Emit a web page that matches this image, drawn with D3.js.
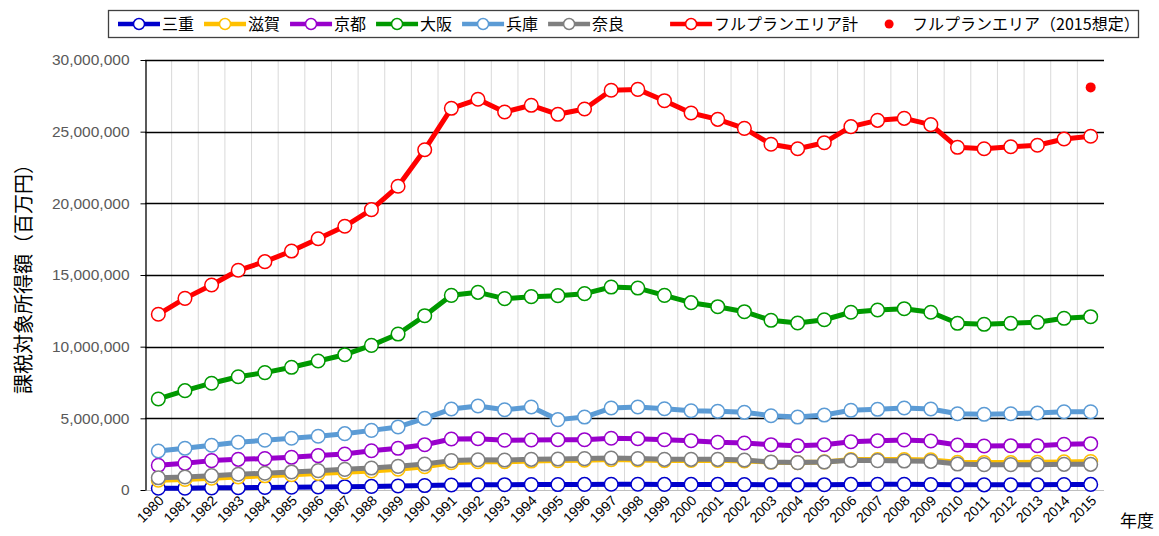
<!DOCTYPE html>
<html>
<head>
<meta charset="utf-8">
<script src="https://cdn.jsdelivr.net/npm/d3@7"></script>
<style>
  body { margin: 0; background: #fff; }
  svg { display: block; font-family: "Liberation Sans", Arial, sans-serif; }
  .jp { font-family: "Noto Sans CJK JP", sans-serif; }
</style>
</head>
<body>
<div id="chart"></div>
<script>
var years = d3.range(1980, 2016).map(String);

// 課税対象所得額 (百万円)
var mie = [0.12, 0.13, 0.15, 0.16, 0.18, 0.19, 0.21, 0.23, 0.25, 0.28, 0.31, 0.35, 0.37, 0.37, 0.38, 0.38, 0.39, 0.40,
    0.40, 0.39, 0.39, 0.39, 0.38, 0.37, 0.36, 0.37, 0.39, 0.40, 0.40, 0.38, 0.36, 0.36, 0.36, 0.37, 0.38, 0.39];
var shiga = [0.68, 0.74, 0.82, 0.91, 0.99, 1.07, 1.15, 1.24, 1.33, 1.45, 1.62, 1.90, 1.97, 1.97, 2.02, 2.05, 2.08, 2.12,
    2.10, 2.05, 2.06, 2.07, 2.03, 1.94, 1.91, 1.96, 2.12, 2.13, 2.12, 2.10, 1.93, 1.91, 1.92, 1.93, 1.96, 1.98];
var kyoto = [1.72, 1.86, 2.05, 2.14, 2.19, 2.28, 2.40, 2.51, 2.74, 2.91, 3.16, 3.56, 3.58, 3.47, 3.49, 3.51, 3.51, 3.61,
    3.58, 3.51, 3.44, 3.33, 3.28, 3.16, 3.09, 3.16, 3.37, 3.44, 3.49, 3.42, 3.14, 3.07, 3.09, 3.09, 3.19, 3.23];
var osaka = [6.35, 6.93, 7.45, 7.90, 8.19, 8.56, 9.00, 9.44, 10.09, 10.88, 12.16, 13.58, 13.79, 13.35, 13.49, 13.56, 13.70, 14.16,
    14.09, 13.58, 13.07, 12.79, 12.44, 11.84, 11.65, 11.88, 12.40, 12.56, 12.65, 12.40, 11.63, 11.56, 11.63, 11.70, 11.98, 12.09];
var hyogo = [2.72, 2.91, 3.12, 3.33, 3.47, 3.61, 3.75, 3.93, 4.16, 4.40, 5.00, 5.65, 5.86, 5.60, 5.79, 4.91, 5.09, 5.72,
    5.79, 5.67, 5.53, 5.49, 5.42, 5.18, 5.09, 5.23, 5.56, 5.63, 5.72, 5.65, 5.32, 5.28, 5.32, 5.37, 5.46, 5.46];
var nara = [0.85, 0.91, 1.00, 1.10, 1.17, 1.26, 1.35, 1.44, 1.53, 1.65, 1.81, 2.05, 2.11, 2.09, 2.14, 2.16, 2.19, 2.23,
    2.19, 2.14, 2.14, 2.14, 2.09, 1.95, 1.91, 1.95, 2.07, 2.05, 2.02, 2.00, 1.81, 1.77, 1.77, 1.77, 1.79, 1.79];
var total = [12.26, 13.37, 14.30, 15.33, 15.93, 16.67, 17.53, 18.40, 19.56, 21.19, 23.74, 26.63, 27.26, 26.37, 26.84, 26.21, 26.58, 27.89,
    27.95, 27.16, 26.30, 25.86, 25.23, 24.12, 23.81, 24.23, 25.35, 25.79, 25.93, 25.49, 23.91, 23.81, 23.95, 24.05, 24.49, 24.68];
var projYear = "2015";
var projValue = 28.09;

var seriesNames = ["三重", "滋賀", "京都", "大阪", "兵庫", "奈良", "フルプランエリア計"];
var seriesValues = [mie, shiga, kyoto, osaka, hyogo, nara, total];
var seriesColors = ["#0000cc", "#ffc000", "#9900cc", "#009900", "#5b9bd5", "#7f7f7f", "#ff0000"];
var projName = "フルプランエリア（2015想定）";

var yTicks = [0, 5, 10, 15, 20, 25, 30];
var yTitle = "課税対象所得額（百万円）";
var xTitle = "年度";

var W = 1159, H = 536;
var M = 1e6;
var plot = { left: 145, right: 1104, top: 60, bottom: 490 };

var svg = d3.select("#chart").append("svg")
    .attr("width", W)
    .attr("height", H);

var x = d3.scaleBand()
    .domain(years)
    .range([plot.left, plot.right])
    .padding(0);
var y = d3.scaleLinear()
    .domain([0, 30 * M])
    .range([plot.bottom, plot.top]);

function cx(yr) { return x(yr) + x.bandwidth() / 2; }

// vertical grid between categories
svg.append("g").selectAll("line")
    .data(years.slice(1))
  .enter().append("line")
    .attr("x1", function(d) { return x(d); })
    .attr("x2", function(d) { return x(d); })
    .attr("y1", plot.top)
    .attr("y2", plot.bottom)
    .attr("stroke", "#d9d9d9")
    .attr("stroke-width", 1);

// horizontal grid
svg.append("g").selectAll("line")
    .data(yTicks.slice(1))
  .enter().append("line")
    .attr("x1", plot.left)
    .attr("x2", plot.right)
    .attr("y1", function(d) { return Math.round(y(d * M)) + 0.5; })
    .attr("y2", function(d) { return Math.round(y(d * M)) + 0.5; })
    .attr("stroke", "#000")
    .attr("stroke-width", 1.3);

// x axis baseline
svg.append("line")
    .attr("x1", plot.left)
    .attr("x2", plot.right)
    .attr("y1", y(0) + 0.5)
    .attr("y2", y(0) + 0.5)
    .attr("stroke", "#bfbfbf");

// y axis
var yAxis = svg.append("g")
    .attr("transform", "translate(" + (plot.left + 0.5) + ",0)")
    .call(d3.axisLeft(y)
        .tickValues(yTicks.map(function(d) { return d * M; }))
        .tickFormat(d3.format(","))
        .tickSizeInner(5)
        .tickSizeOuter(0)
        .tickPadding(11));
yAxis.select(".domain").attr("stroke", "#000").attr("stroke-width", 1.3);
yAxis.selectAll(".tick line").attr("stroke", "#000");
yAxis.selectAll("text")
    .attr("fill", "#595959")
    .style("font-size", "15.5px")
    .style("font-family", "'Liberation Sans', Arial, sans-serif");

// x labels, rotated
svg.append("g").selectAll("text")
    .data(years)
  .enter().append("text")
    .attr("transform", function(d) {
        return "translate(" + (cx(d) + 3) + "," + (plot.bottom + 8) + ") rotate(-45)";
    })
    .attr("text-anchor", "end")
    .attr("dy", "0.35em")
    .style("font-size", "14px")
    .attr("fill", "#000")
    .text(function(d) { return d; });

svg.append("text")
    .attr("class", "jp")
    .attr("x", 1154)
    .attr("y", 527)
    .attr("text-anchor", "end")
    .style("font-size", "17px")
    .text(xTitle);

svg.append("text")
    .attr("class", "jp")
    .attr("transform", "translate(24,274) rotate(-90)")
    .attr("text-anchor", "middle")
    .attr("dy", "0.35em")
    .style("font-size", "20px")
    .text(yTitle);

// series
var line = d3.line()
    .x(function(d, i) { return cx(years[i]); })
    .y(function(d) { return y(d * M); });

seriesValues.forEach(function(vals, k) {
    var g = svg.append("g");
    g.append("path")
        .datum(vals)
        .attr("d", line)
        .attr("fill", "none")
        .attr("stroke", seriesColors[k])
        .attr("stroke-width", 5)
        .attr("stroke-linejoin", "round");
    g.selectAll("circle")
        .data(vals)
      .enter().append("circle")
        .attr("cx", function(d, i) { return cx(years[i]); })
        .attr("cy", function(d) { return y(d * M); })
        .attr("r", 6.8)
        .attr("fill", "#fff")
        .attr("stroke", seriesColors[k])
        .attr("stroke-width", 1.5);
});

svg.append("circle")
    .attr("cx", cx(projYear))
    .attr("cy", y(projValue * M))
    .attr("r", 5)
    .attr("fill", "#ff0000");

// legend
var legend = svg.append("g").attr("class", "jp");
var lx = 118, ly = 24;
var entries = seriesNames.map(function(n, k) { return { name: n, color: seriesColors[k], dot: false }; });
entries.push({ name: projName, color: "#ff0000", dot: true });

entries.forEach(function(e, i) {
    // the total entry sits in a wider slot in the original legend
    if (i === 6) { lx += 36; }
    var g = legend.append("g");
    if (e.dot) {
        g.append("circle")
            .attr("cx", lx + 21).attr("cy", ly)
            .attr("r", 4.5).attr("fill", e.color);
    } else {
        g.append("line")
            .attr("x1", lx).attr("x2", lx + 42)
            .attr("y1", ly).attr("y2", ly)
            .attr("stroke", e.color).attr("stroke-width", 4.5);
        g.append("circle")
            .attr("cx", lx + 21).attr("cy", ly)
            .attr("r", 5.5).attr("fill", "#fff")
            .attr("stroke", e.color).attr("stroke-width", 1.5);
    }
    var t = g.append("text")
        .attr("x", lx + 44)
        .attr("y", ly)
        .attr("dy", "0.36em")
        .style("font-size", "16px")
        .attr("fill", "#000")
        .text(e.name);
    lx += 44 + t.node().getComputedTextLength() + 10;
});

legend.insert("rect", ":first-child")
    .attr("x", 108.5)
    .attr("y", 10.5)
    .attr("width", 1030)
    .attr("height", 27)
    .attr("fill", "#fff")
    .attr("stroke", "#404040")
    .attr("stroke-width", 1.3);
</script>
</body>
</html>
